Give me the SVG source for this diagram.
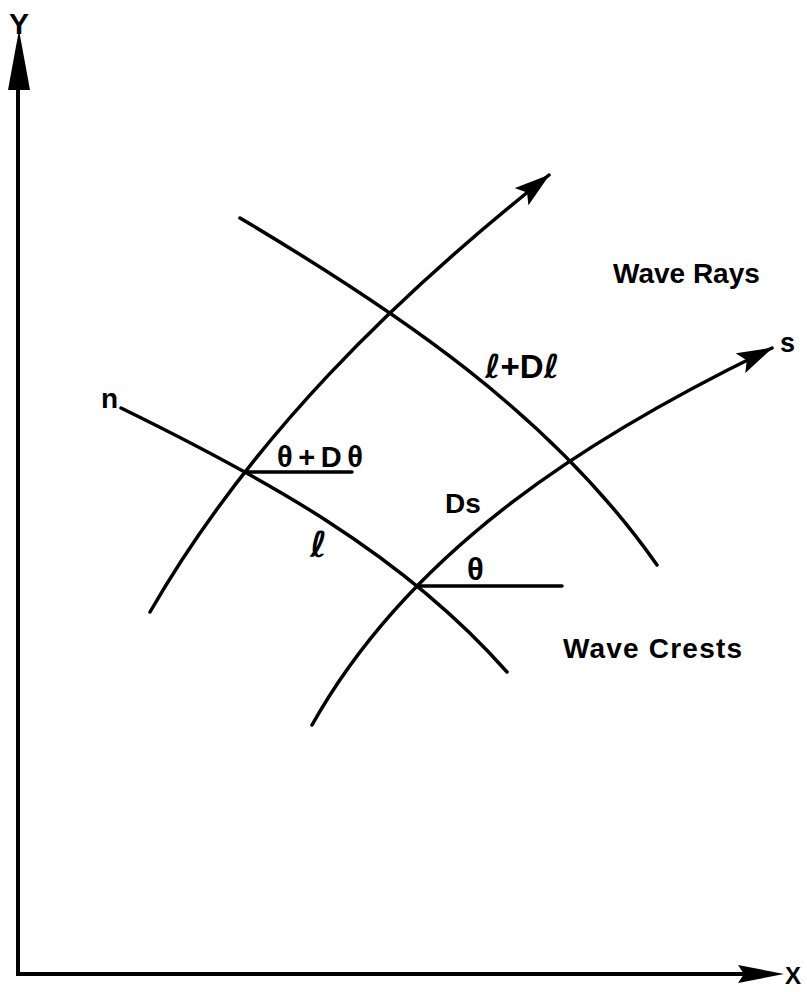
<svg xmlns="http://www.w3.org/2000/svg" width="807" height="992" viewBox="0 0 807 992">
<style>
.ln{fill:none;stroke:#000;stroke-width:3.5;stroke-linecap:round;stroke-linejoin:round}
.ax{fill:none;stroke:#000;stroke-width:4}
.hd{fill:#000;stroke:none}
.t{font-family:"Liberation Sans",Arial,sans-serif;font-weight:bold;fill:#000}
.sc{font-family:"DejaVu Sans","Liberation Sans",sans-serif;font-style:italic;font-weight:bold;fill:#000}
</style>
<defs>
<marker id="arr" markerUnits="userSpaceOnUse" viewBox="0 0 36 22" refX="35" refY="11" markerWidth="36" markerHeight="22" orient="auto">
<path d="M0,0 L36,11 L0,22 L7,11 z" fill="#000"/>
</marker>
</defs>
<rect width="807" height="992" fill="#fff"/>
<g id="axes">
<line class="ax" x1="18" y1="976" x2="18" y2="80"/>
<polygon class="hd" points="19,30 30,90 8,90"/>
<line class="ax" x1="16" y1="974" x2="748" y2="974"/>
<polygon class="hd" points="738,965 784,974 738,983 744,974"/>
<text class="t" x="19" y="34" font-size="30" text-anchor="middle">Y</text>
<text class="t" x="785" y="984" font-size="24">X</text>
</g>
<g id="connectors">
<path id="ray1" class="ln" marker-end="url(#arr)" d="M150,612 C249.7,439 394.1,297.8 549,175"/>
<path id="ray2" class="ln" marker-end="url(#arr)" d="M312,725 C412,546.6 593.7,434.1 772,348"/>
<path id="crest1" class="ln" d="M121,408 C261.3,476.6 402.4,553.2 507,672"/>
<path id="crest2" class="ln" d="M240,218 C394.9,310.1 552,414.7 657,565"/>
<line id="ref1" class="ln" x1="245" y1="472" x2="352" y2="472"/>
<line id="ref2" class="ln" x1="417" y1="586" x2="562" y2="586"/>
</g>
<g id="labels">
<text class="t" x="101" y="408" font-size="28">n</text>
<text class="t" x="780" y="352" font-size="27">s</text>
<text class="t" x="613" y="283" font-size="28">Wave Rays</text>
<text class="t" x="563" y="658" font-size="28" textLength="179">Wave Crests</text>
<text class="t" x="277" y="467" font-size="29" textLength="86">θ+Dθ</text>
<text class="t" x="467" y="580" font-size="31">θ</text>
<text class="t" x="445" y="513" font-size="28">Ds</text>
<text class="sc" x="310" y="557" font-size="36">ℓ</text>
<text x="485" y="378" font-size="33"><tspan class="sc">ℓ</tspan><tspan class="t">+D</tspan><tspan class="sc">ℓ</tspan></text>
</g>
</svg>
